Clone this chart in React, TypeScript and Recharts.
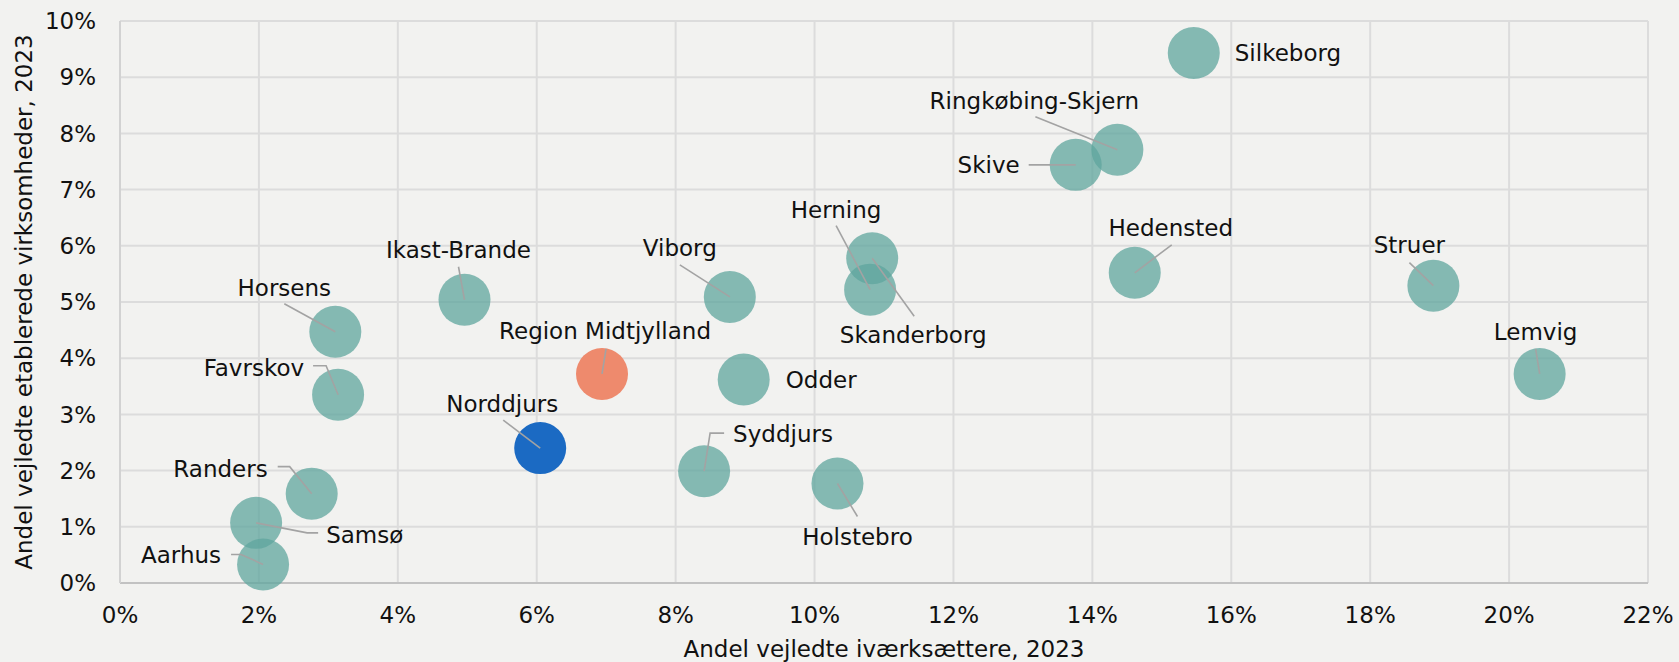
import { ScatterChart, Scatter, XAxis, YAxis, CartesianGrid } from "recharts";

// Andel vejledte iværksættere (x) og etablerede virksomheder (y), 2023, i procent
const kommuner = [
  "Silkeborg",
  "Ringkøbing-Skjern",
  "Skive",
  "Skanderborg",
  "Herning",
  "Hedensted",
  "Struer",
  "Lemvig",
  "Viborg",
  "Odder",
  "Syddjurs",
  "Holstebro",
  "Region Midtjylland",
  "Norddjurs",
  "Ikast-Brande",
  "Horsens",
  "Favrskov",
  "Randers",
  "Samsø",
  "Aarhus",
];
const ivaerksaettere = [
  15.46, 14.36, 13.76, 10.83, 10.8, 14.61, 18.91, 20.44, 8.78, 8.98, 8.41, 10.33, 6.94, 6.05, 4.96,
  3.1, 3.14, 2.76, 1.96, 2.06,
];
const etablerede = [
  9.43, 7.71, 7.44, 5.78, 5.22, 5.52, 5.29, 3.72, 5.09, 3.62, 1.99, 1.77, 3.72, 2.4, 5.04, 4.47,
  3.35, 1.59, 1.07, 0.33,
];
const xTicks = [0, 2, 4, 6, 8, 10, 12, 14, 16, 18, 20, 22];
const yTicks = [0, 1, 2, 3, 4, 5, 6, 7, 8, 9, 10];

const data = kommuner.map((name, i) => ({ name, x: ivaerksaettere[i], y: etablerede[i] }));

const FONT = "'DejaVu Sans', Verdana, sans-serif";
const TEXT = "#111111";
const fills: Record<string, string> = {
  "Region Midtjylland": "#ee8a6d",
  Norddjurs: "#1b6ac3",
};

// label placement relative to the bubble centre (px), leader line goes from centre through pts
type Lbl = { dx: number; dy: number; anchor: "start" | "middle" | "end"; line: number[][] };
const labels: Record<string, Lbl> = {
  Silkeborg: { dx: 41, dy: 0, anchor: "start", line: [] },
  "Ringkøbing-Skjern": { dx: -83, dy: -49, anchor: "middle", line: [[-82, -33]] },
  Skive: { dx: -56, dy: 0, anchor: "end", line: [[-47, 0]] },
  Herning: { dx: -34, dy: -80, anchor: "middle", line: [[-34, -64]] },
  Skanderborg: { dx: 41, dy: 77, anchor: "middle", line: [[42, 58]] },
  Hedensted: { dx: 36, dy: -45, anchor: "middle", line: [[37, -28]] },
  Struer: { dx: -24, dy: -41, anchor: "middle", line: [[-24, -23]] },
  Lemvig: { dx: -4, dy: -42, anchor: "middle", line: [[-4, -25]] },
  Viborg: { dx: -50, dy: -49, anchor: "middle", line: [[-50, -32]] },
  Odder: { dx: 42, dy: 0, anchor: "start", line: [] },
  Syddjurs: { dx: 29, dy: -37, anchor: "start", line: [[6, -38], [20, -38]] },
  Holstebro: { dx: 20, dy: 53, anchor: "middle", line: [[20, 33]] },
  "Region Midtjylland": { dx: 3, dy: -43, anchor: "middle", line: [[4, -25]] },
  Norddjurs: { dx: -38, dy: -44, anchor: "middle", line: [[-37, -28]] },
  "Ikast-Brande": { dx: -6, dy: -50, anchor: "middle", line: [[-6, -33]] },
  Horsens: { dx: -51, dy: -44, anchor: "middle", line: [[-51, -28]] },
  Favrskov: { dx: -34, dy: -27, anchor: "end", line: [[-12, -29], [-25, -29]] },
  Randers: { dx: -44, dy: -25, anchor: "end", line: [[-22, -27], [-34, -27]] },
  Samsø: { dx: 70, dy: 12, anchor: "start", line: [[51, 10], [62, 10]] },
  Aarhus: { dx: -42, dy: -9, anchor: "end", line: [[-22, -10], [-32, -10]] },
};

const renderBubble = (props: any) => {
  const { cx, cy, payload } = props;
  const special = fills[payload.name];
  return (
    <circle
      cx={cx}
      cy={cy}
      r={26}
      fill={special || "#5fa69e"}
      fillOpacity={special ? 1 : 0.75}
    />
  );
};

const renderLabel = (props: any) => {
  const { cx, cy, payload } = props;
  const l = labels[payload.name];
  if (!l) return <g />;
  const pts = [[0, 0], ...l.line].map(([dx, dy]) => `${cx + dx},${cy + dy}`).join(" ");
  return (
    <g>
      {l.line.length > 0 && (
        <polyline points={pts} fill="none" stroke="#a3a3a3" strokeWidth={1.6} />
      )}
      <text
        x={cx + l.dx}
        y={cy + l.dy}
        textAnchor={l.anchor}
        dominantBaseline="central"
        fontSize={23}
        fontFamily={FONT}
        fill={TEXT}
      >
        {payload.name}
      </text>
    </g>
  );
};

export default function App() {
  return (
    <div
      style={{
        position: "absolute",
        left: 0,
        top: 0,
        width: 1679,
        height: 662,
        background: "#f2f2f0",
        fontFamily: FONT,
      }}
    >
      <ScatterChart width={1679} height={662} margin={{ top: 21, right: 31, bottom: 0, left: 0 }}>
        <CartesianGrid stroke="#dcdcdc" strokeWidth={2} />
        <XAxis
          type="number"
          dataKey="x"
          domain={[0, 22]}
          ticks={xTicks}
          tickFormatter={(v) => `${v}%`}
          height={79}
          tickSize={0}
          tickMargin={24}
          tick={{ fontSize: 23, fill: TEXT, fontFamily: FONT }}
          axisLine={{ stroke: "#c2c2c2", strokeWidth: 2 }}
          label={{
            content: (p: any) => {
              const vb = p.viewBox;
              return (
                <text
                  x={vb.x + vb.width / 2}
                  y={657}
                  textAnchor="middle"
                  fontSize={23}
                  fontFamily={FONT}
                  fill={TEXT}
                >
                  Andel vejledte iværksættere, 2023
                </text>
              );
            },
          }}
        />
        <YAxis
          type="number"
          dataKey="y"
          domain={[0, 10]}
          ticks={yTicks}
          tickFormatter={(v) => `${v}%`}
          width={120}
          tickSize={0}
          tickMargin={24}
          tick={{ fontSize: 23, fill: TEXT, fontFamily: FONT }}
          axisLine={{ stroke: "#d2d2d2", strokeWidth: 2 }}
          label={{
            content: (p: any) => {
              const vb = p.viewBox;
              const cy = vb.y + vb.height / 2;
              return (
                <text
                  x={32}
                  y={cy}
                  transform={`rotate(-90, 32, ${cy})`}
                  textAnchor="middle"
                  fontSize={23}
                  fontFamily={FONT}
                  fill={TEXT}
                >
                  Andel vejledte etablerede virksomheder, 2023
                </text>
              );
            },
          }}
        />
        <Scatter data={data} shape={renderBubble} isAnimationActive={false} />
        <Scatter data={data} shape={renderLabel} isAnimationActive={false} />
      </ScatterChart>
    </div>
  );
}
